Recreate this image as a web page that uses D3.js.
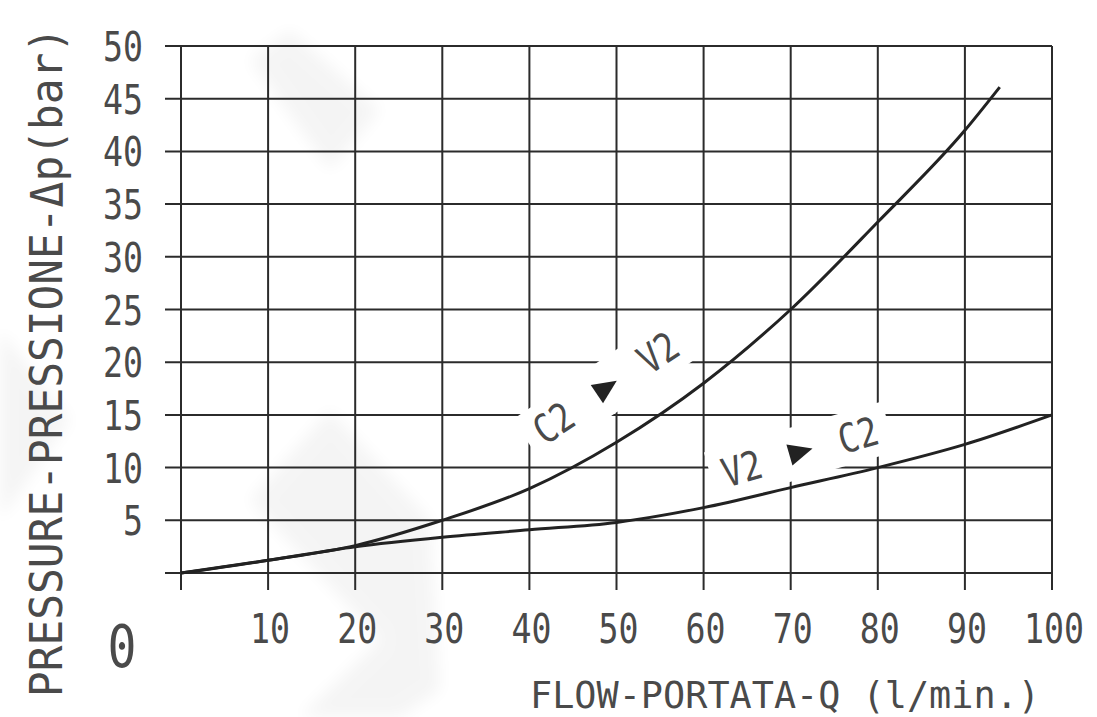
<!DOCTYPE html>
<html>
<head>
<meta charset="utf-8">
<script src="https://cdn.jsdelivr.net/npm/d3@7"></script>
<style>
  body { margin: 0; background: #fff; }
  text { font-family: "DejaVu Sans Mono", monospace; fill: #4a4a4a; }
</style>
</head>
<body>
<div class="canva"></div>
<script>
// flow Q (l/min) and pressure drop (bar)
const flowC2V2 = [0, 10, 20, 30, 40, 50, 60, 70, 80, 90, 94]
const dpC2V2   = [0, 1.2, 2.6, 5, 8, 12.4, 18, 25, 33.3, 42, 46.1]
const flowV2C2 = [0, 10, 20, 30, 40, 50, 60, 70, 80, 90, 100]
const dpV2C2   = [0, 1.2, 2.5, 3.4, 4.1, 4.8, 6.2, 8.1, 10, 12.2, 15]
const xTicks = [10, 20, 30, 40, 50, 60, 70, 80, 90, 100]
const yTicks = [5, 10, 15, 20, 25, 30, 35, 40, 45, 50]

const width = 1097, height = 717
const svg = d3.select('.canva').append('svg')
              .attr('width', width)
              .attr('height', height)

const x = d3.scaleLinear().domain([0, 100]).range([181, 1052])
const y = d3.scaleLinear().domain([0, 50]).range([573, 46])

// faint watermark bands
svg.append('defs').append('filter').attr('id', 'blur')
   .append('feGaussianBlur').attr('stdDeviation', 8)
const wm = svg.append('g').attr('fill', '#000').attr('opacity', 0.04).attr('filter', 'url(#blur)')
wm.append('path').attr('d', 'M0,330 L70,420 L0,520 Z')
wm.append('path').attr('d', 'M250,500 L330,410 L430,520 L440,690 L400,717 L300,717 L380,640 Z')
wm.append('path').attr('d', 'M290,30 L380,110 L330,170 L250,60 Z')

// grid
const grid = svg.append('g').attr('stroke', '#2b2b2b').attr('stroke-width', 2)
grid.selectAll('.h').data([0].concat(yTicks)).enter().append('line')
    .attr('x1', x(0) - 16).attr('x2', x(100))
    .attr('y1', d => y(d)).attr('y2', d => y(d))
grid.selectAll('.v').data([0].concat(xTicks)).enter().append('line')
    .attr('x1', d => x(d)).attr('x2', d => x(d))
    .attr('y1', y(50)).attr('y2', y(0) + 17)

// curve labels (white band hides the grid, curve drawn on top)
function curveLabel(cx, cy, angle, a, b, w) {
  const g = svg.append('g').attr('transform', `translate(${cx},${cy}) rotate(${angle})`)
  g.append('rect').attr('x', -w / 2).attr('y', -26).attr('width', w).attr('height', 52)
   .attr('fill', '#fff')
  g.append('text').attr('x', -w / 2 + 12).attr('y', 14).attr('font-size', 40)
   .attr('textLength', 40).attr('lengthAdjust', 'spacingAndGlyphs').text(a)
  g.append('path').attr('d', 'M-11,-11 L13,0 L-11,11 Z').attr('fill', '#222')
  g.append('text').attr('x', w / 2 - 52).attr('y', 14).attr('font-size', 40)
   .attr('textLength', 40).attr('lengthAdjust', 'spacingAndGlyphs').text(b)
}
curveLabel(606, 388, -34, 'C2', 'V2', 190)
curveLabel(800, 452, -16, 'V2', 'C2', 185)

// curves
const line = d3.line().x(d => x(d[0])).y(d => y(d[1])).curve(d3.curveMonotoneX)
svg.append('path')
   .datum(flowC2V2.map((f, i) => [f, dpC2V2[i]]))
   .attr('d', line).attr('fill', 'none').attr('stroke', '#222').attr('stroke-width', 3)
svg.append('path')
   .datum(flowV2C2.map((f, i) => [f, dpV2C2[i]]))
   .attr('d', line).attr('fill', 'none').attr('stroke', '#222').attr('stroke-width', 3)

// tick labels
svg.selectAll('.yl').data(yTicks).enter().append('text')
   .attr('x', 143).attr('y', d => y(d) + 15)
   .attr('text-anchor', 'end')
   .attr('font-size', 40)
   .attr('textLength', d => String(d).length * 20)
   .attr('lengthAdjust', 'spacingAndGlyphs')
   .text(d => d)
svg.selectAll('.xl').data(xTicks).enter().append('text')
   .attr('x', d => x(d) + 2).attr('y', 643)
   .attr('text-anchor', 'middle')
   .attr('font-size', 40)
   .attr('textLength', d => String(d).length * 20)
   .attr('lengthAdjust', 'spacingAndGlyphs')
   .text(d => d)
svg.append('text')
   .attr('x', 122).attr('y', 667)
   .attr('text-anchor', 'middle')
   .attr('font-size', 58)
   .attr('textLength', 29)
   .attr('lengthAdjust', 'spacingAndGlyphs')
   .text('0')

// axis titles
svg.append('text')
   .attr('transform', 'translate(62,362) rotate(-90)')
   .attr('text-anchor', 'middle')
   .attr('font-size', 44)
   .attr('textLength', 670)
   .attr('lengthAdjust', 'spacingAndGlyphs')
   .text('PRESSURE-PRESSIONE-\u0394p(bar)')
svg.append('text')
   .attr('x', 785).attr('y', 708)
   .attr('text-anchor', 'middle')
   .attr('font-size', 38)
   .attr('textLength', 510)
   .attr('lengthAdjust', 'spacingAndGlyphs')
   .text('FLOW-PORTATA-Q (l/min.)')
</script>
</body>
</html>
